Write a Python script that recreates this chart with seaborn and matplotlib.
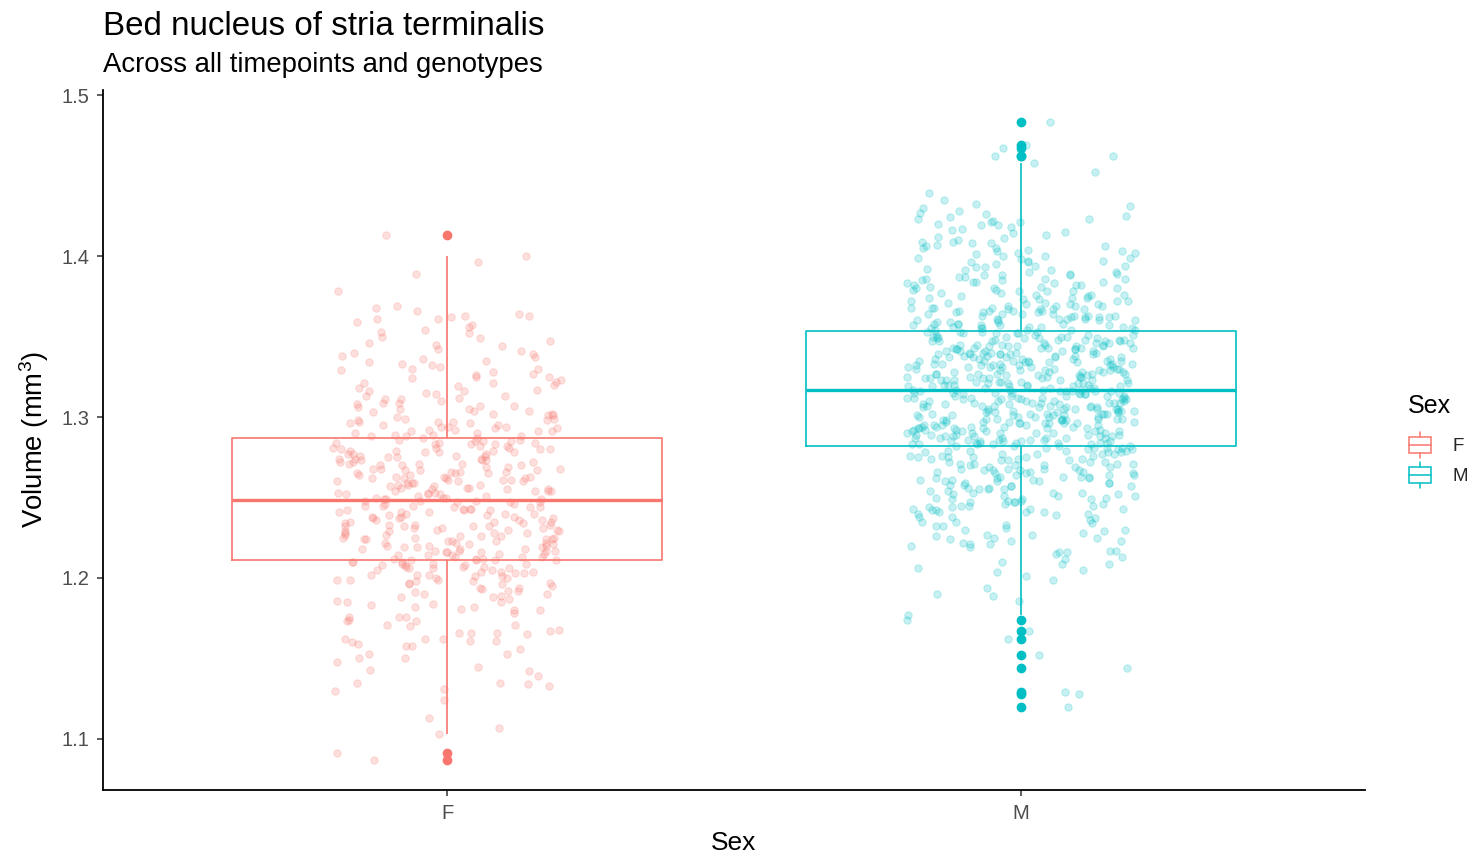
import numpy as np
import pandas as pd
import matplotlib
matplotlib.use("Agg")
import matplotlib.pyplot as plt
import seaborn as sns
from matplotlib.legend_handler import HandlerBase
from matplotlib.patches import Rectangle, Patch
from matplotlib.lines import Line2D

# ---------------- data ----------------
sexes = ["F", "M"]
colors = ["#F8766D", "#00BFC4"]
title = "Bed nucleus of stria terminalis"
subtitle = "Across all timepoints and genotypes"
x_label = "Sex"
legend_title = "Sex"
y_label = r"Volume (mm$^\mathregular{3}$)"
y_ticks = [1.1, 1.2, 1.3, 1.4, 1.5]
y_tick_labels = ["1.1", "1.2", "1.3", "1.4", "1.5"]

volume_F = [
    1.087, 1.091, 1.103, 1.107, 1.113,
    1.124, 1.130, 1.131, 1.133, 1.134, 1.135, 1.135, 1.139,
    1.142, 1.143, 1.145, 1.148, 1.150, 1.150, 1.153, 1.153, 1.156, 1.158, 1.158, 1.159,
    1.160, 1.161, 1.161, 1.162, 1.162, 1.162, 1.165, 1.166, 1.166, 1.166, 1.167, 1.168,
    1.170, 1.171, 1.171, 1.173, 1.173, 1.174, 1.176, 1.176, 1.176, 1.178,
    1.180, 1.180, 1.181, 1.182, 1.182, 1.183, 1.184, 1.185, 1.185, 1.186, 1.187, 1.188,
    1.188, 1.189, 1.190, 1.190, 1.191, 1.192, 1.192, 1.193, 1.194, 1.194, 1.195, 1.196,
    1.196, 1.197, 1.197, 1.198, 1.198, 1.199, 1.199, 1.199, 1.200,
    1.200, 1.201, 1.201, 1.202, 1.202, 1.202, 1.203, 1.203, 1.204, 1.204, 1.204, 1.205,
    1.205, 1.206, 1.206, 1.206, 1.207, 1.207, 1.207, 1.208, 1.208, 1.208, 1.209, 1.209,
    1.209, 1.210, 1.210, 1.210, 1.211, 1.211,
    1.211, 1.211, 1.212, 1.212, 1.212, 1.213, 1.213, 1.213, 1.214, 1.214, 1.214, 1.215,
    1.215, 1.216, 1.216, 1.216, 1.217, 1.217, 1.217, 1.217, 1.218, 1.218, 1.218, 1.219,
    1.219, 1.219, 1.220, 1.220, 1.220, 1.221, 1.221, 1.222, 1.222, 1.222, 1.223, 1.223,
    1.223, 1.224, 1.224, 1.224, 1.224, 1.225, 1.225, 1.225, 1.226, 1.226, 1.226, 1.227,
    1.227, 1.228, 1.228, 1.228, 1.229, 1.229, 1.229, 1.230, 1.230, 1.230, 1.231, 1.231,
    1.231, 1.232, 1.232, 1.232, 1.232, 1.233, 1.233, 1.233, 1.234, 1.234, 1.235, 1.235,
    1.235, 1.236, 1.236, 1.236, 1.237, 1.237, 1.237, 1.238, 1.238, 1.238, 1.239, 1.239,
    1.240, 1.240, 1.240, 1.241, 1.241, 1.241, 1.242, 1.242, 1.242, 1.243, 1.243, 1.243,
    1.244, 1.244, 1.244, 1.245, 1.245, 1.245, 1.246, 1.246, 1.247, 1.247, 1.247, 1.248,
    1.248, 1.248,
    1.249, 1.249, 1.249, 1.250, 1.250, 1.250, 1.251, 1.251, 1.252, 1.252, 1.252, 1.253,
    1.253, 1.253, 1.254, 1.254, 1.254, 1.254, 1.255, 1.255, 1.255, 1.256, 1.256, 1.256,
    1.257, 1.257, 1.258, 1.258, 1.258, 1.259, 1.259, 1.259, 1.260, 1.260, 1.260, 1.261,
    1.261, 1.261, 1.262, 1.262, 1.262, 1.262, 1.263, 1.263, 1.263, 1.264, 1.264, 1.265,
    1.265, 1.265, 1.266, 1.266, 1.266, 1.267, 1.267, 1.267, 1.268, 1.268, 1.268, 1.269,
    1.269, 1.270, 1.270, 1.270, 1.271, 1.271, 1.271, 1.272, 1.272, 1.272, 1.273, 1.273,
    1.273, 1.274, 1.274, 1.274, 1.275, 1.275, 1.276, 1.276, 1.276, 1.277, 1.277, 1.277,
    1.278, 1.278, 1.278, 1.279, 1.279, 1.279, 1.280, 1.280, 1.280, 1.281, 1.281, 1.281,
    1.282, 1.282, 1.283, 1.283, 1.283, 1.284, 1.284, 1.284, 1.285, 1.285, 1.285, 1.286,
    1.286, 1.287,
    1.287, 1.288, 1.288, 1.288, 1.289, 1.289, 1.290, 1.290, 1.291, 1.291, 1.291, 1.292,
    1.292, 1.293, 1.293, 1.294, 1.294, 1.294, 1.295, 1.295, 1.296, 1.296, 1.297, 1.297,
    1.297, 1.298, 1.298, 1.299, 1.299, 1.300,
    1.301, 1.301, 1.302, 1.302, 1.303, 1.304, 1.304, 1.305, 1.305, 1.306, 1.307, 1.307,
    1.308, 1.309, 1.309, 1.310, 1.311, 1.311, 1.312, 1.313, 1.313, 1.314, 1.315, 1.316,
    1.316, 1.317, 1.318, 1.319,
    1.320, 1.321, 1.321, 1.322, 1.323, 1.324, 1.325, 1.325, 1.326, 1.327, 1.328, 1.329,
    1.330, 1.330, 1.331, 1.332, 1.333, 1.334, 1.335, 1.336, 1.337, 1.338, 1.339,
    1.340, 1.341, 1.342, 1.344, 1.345, 1.346, 1.347, 1.349, 1.350, 1.352, 1.353, 1.354,
    1.356, 1.357, 1.359,
    1.361, 1.361, 1.362, 1.363, 1.363, 1.364, 1.366, 1.368, 1.369, 1.378,
    1.389, 1.396, 1.400, 1.413,
]

volume_M = [
    1.120, 1.128, 1.129, 1.144, 1.152, 1.162, 1.167, 1.174,
    1.177, 1.186, 1.189, 1.190, 1.194, 1.199,
    1.201, 1.204, 1.205, 1.206, 1.209, 1.209, 1.210, 1.212, 1.213, 1.215, 1.216, 1.216,
    1.217, 1.217, 1.219,
    1.220, 1.221, 1.221, 1.222, 1.223, 1.223, 1.224, 1.225, 1.225, 1.226, 1.227, 1.227,
    1.228, 1.229, 1.230, 1.230, 1.231, 1.232, 1.232, 1.233, 1.234, 1.235, 1.235, 1.236,
    1.237, 1.238, 1.238, 1.239,
    1.240, 1.240, 1.241, 1.241, 1.241, 1.242, 1.242, 1.243, 1.243, 1.243, 1.244, 1.244,
    1.245, 1.245, 1.245, 1.246, 1.246, 1.247, 1.247, 1.247, 1.248, 1.248, 1.249, 1.249,
    1.249, 1.250, 1.250, 1.251, 1.251, 1.251, 1.252, 1.252, 1.253, 1.253, 1.253, 1.254,
    1.254, 1.255, 1.255, 1.255, 1.256, 1.256, 1.257, 1.257, 1.257, 1.258, 1.258, 1.259,
    1.259, 1.259,
    1.260, 1.260, 1.260, 1.261, 1.261, 1.261, 1.262, 1.262, 1.262, 1.263, 1.263, 1.263,
    1.263, 1.264, 1.264, 1.264, 1.265, 1.265, 1.265, 1.266, 1.266, 1.266, 1.267, 1.267,
    1.267, 1.267, 1.268, 1.268, 1.268, 1.269, 1.269, 1.269, 1.270, 1.270, 1.270, 1.271,
    1.271, 1.271, 1.271, 1.272, 1.272, 1.272, 1.273, 1.273, 1.273, 1.274, 1.274, 1.274,
    1.275, 1.275, 1.275, 1.275, 1.276, 1.276, 1.276, 1.277, 1.277, 1.277, 1.277, 1.278,
    1.278, 1.278, 1.279, 1.279, 1.279, 1.279, 1.280, 1.280, 1.280, 1.281, 1.281, 1.281,
    1.281,
    1.282, 1.282, 1.282, 1.282, 1.283, 1.283, 1.283, 1.283, 1.283, 1.284, 1.284, 1.284,
    1.284, 1.284, 1.284, 1.285, 1.285, 1.285, 1.285, 1.285, 1.286, 1.286, 1.286, 1.286,
    1.287, 1.287, 1.287, 1.287, 1.287, 1.287, 1.288, 1.288, 1.288, 1.288, 1.288, 1.289,
    1.289, 1.289, 1.289, 1.289, 1.290, 1.290, 1.290, 1.290, 1.290, 1.290, 1.291, 1.291,
    1.291, 1.291, 1.291,
    1.292, 1.292, 1.292, 1.292, 1.293, 1.293, 1.293, 1.293, 1.293, 1.293, 1.294, 1.294,
    1.294, 1.294, 1.294, 1.295, 1.295, 1.295, 1.295, 1.295, 1.296, 1.296, 1.296, 1.296,
    1.296, 1.296, 1.297, 1.297, 1.297, 1.297, 1.298, 1.298, 1.298, 1.298, 1.298, 1.299,
    1.299, 1.299, 1.299, 1.299, 1.299, 1.300, 1.300, 1.300, 1.300, 1.300, 1.301, 1.301,
    1.301, 1.301, 1.301,
    1.302, 1.302, 1.302, 1.302, 1.302, 1.302, 1.303, 1.303, 1.303, 1.303, 1.304, 1.304,
    1.304, 1.304, 1.304, 1.305, 1.305, 1.305, 1.305, 1.305, 1.305, 1.306, 1.306, 1.306,
    1.306, 1.306, 1.307, 1.307, 1.307, 1.307, 1.307, 1.308, 1.308, 1.308, 1.308, 1.309,
    1.309, 1.309, 1.309, 1.309, 1.309, 1.310, 1.310, 1.310, 1.310, 1.310, 1.311, 1.311,
    1.311, 1.311, 1.311,
    1.312, 1.312, 1.312, 1.312, 1.312, 1.312, 1.313, 1.313, 1.313, 1.313, 1.313, 1.314,
    1.314, 1.314, 1.314, 1.315, 1.315, 1.315, 1.315, 1.315, 1.315, 1.316, 1.316, 1.316,
    1.316, 1.316, 1.316,
    1.317, 1.317, 1.317, 1.317, 1.317, 1.318, 1.318, 1.318, 1.318, 1.319, 1.319, 1.319,
    1.319, 1.319, 1.319, 1.320, 1.320, 1.320, 1.320, 1.320, 1.321, 1.321, 1.321, 1.321,
    1.321, 1.322, 1.322, 1.322, 1.322, 1.323, 1.323, 1.323, 1.323, 1.323, 1.323, 1.324,
    1.324, 1.324, 1.324, 1.324, 1.325, 1.325, 1.325, 1.325, 1.325, 1.326, 1.326, 1.326,
    1.326,
    1.327, 1.327, 1.327, 1.327, 1.327, 1.327, 1.328, 1.328, 1.328, 1.328, 1.328, 1.329,
    1.329, 1.329, 1.329, 1.329, 1.330, 1.330, 1.330, 1.330, 1.331, 1.331, 1.331, 1.331,
    1.331, 1.331, 1.332, 1.332, 1.332, 1.332, 1.332, 1.333, 1.333, 1.333, 1.333, 1.333,
    1.334, 1.334, 1.334, 1.334, 1.335, 1.335, 1.335, 1.335, 1.335, 1.335, 1.336, 1.336,
    1.336, 1.336, 1.336,
    1.337, 1.337, 1.337, 1.337, 1.337, 1.338, 1.338, 1.338, 1.338, 1.339, 1.339, 1.339,
    1.339, 1.339, 1.339, 1.340, 1.340, 1.340, 1.340, 1.340, 1.341, 1.341, 1.341, 1.341,
    1.341, 1.342, 1.342, 1.342, 1.342, 1.343, 1.343, 1.343, 1.343, 1.343, 1.343, 1.344,
    1.344, 1.344, 1.344, 1.344, 1.345, 1.345, 1.345, 1.345, 1.345, 1.346, 1.346, 1.346,
    1.346,
    1.347, 1.347, 1.347, 1.347, 1.347, 1.348, 1.348, 1.348, 1.348, 1.348, 1.349, 1.349,
    1.349, 1.349, 1.350, 1.350, 1.350, 1.350, 1.350, 1.351, 1.351, 1.351, 1.351, 1.352,
    1.352, 1.352, 1.352, 1.353, 1.353, 1.353, 1.353,
    1.354, 1.354, 1.354, 1.354, 1.355, 1.355, 1.355, 1.355, 1.356, 1.356, 1.356, 1.356,
    1.357, 1.357, 1.357, 1.357, 1.358, 1.358, 1.358, 1.358, 1.359, 1.359, 1.359, 1.360,
    1.360, 1.360, 1.360, 1.361, 1.361, 1.361, 1.361, 1.362, 1.362, 1.362, 1.362, 1.363,
    1.363, 1.363, 1.363, 1.364, 1.364, 1.364, 1.364, 1.365, 1.365, 1.365, 1.366, 1.366,
    1.366, 1.366, 1.367, 1.367, 1.367, 1.367, 1.368, 1.368, 1.368, 1.368, 1.369, 1.369,
    1.369, 1.369,
    1.370, 1.370, 1.370, 1.371, 1.371, 1.372, 1.372, 1.372, 1.373, 1.373, 1.374, 1.374,
    1.374, 1.375, 1.375, 1.376, 1.376, 1.376, 1.377, 1.377, 1.378, 1.378, 1.378, 1.379,
    1.379, 1.380, 1.380, 1.380, 1.381, 1.381, 1.382, 1.382, 1.382, 1.383, 1.383, 1.384,
    1.384, 1.384, 1.385, 1.385, 1.386, 1.386, 1.386, 1.387, 1.387, 1.388, 1.388, 1.388,
    1.389, 1.389,
    1.390, 1.390, 1.391, 1.391, 1.392, 1.393, 1.393, 1.394, 1.394, 1.395, 1.396, 1.396,
    1.397, 1.397, 1.398, 1.399, 1.399, 1.400, 1.400, 1.401, 1.402, 1.402, 1.403, 1.403,
    1.404, 1.405, 1.405, 1.406, 1.406, 1.407, 1.408, 1.408, 1.409, 1.409,
    1.410, 1.411, 1.412, 1.413, 1.414, 1.415, 1.416, 1.417, 1.418, 1.419, 1.419, 1.420,
    1.421, 1.421, 1.422, 1.423, 1.423, 1.424, 1.425, 1.426, 1.427, 1.428,
    1.430, 1.431, 1.432, 1.435, 1.439, 1.452, 1.458,
    1.462, 1.462, 1.467, 1.469, 1.483,
]

df = pd.DataFrame({
    "Sex": ["F"] * len(volume_F) + ["M"] * len(volume_M),
    "Volume": volume_F + volume_M,
})

# ---------------- style ----------------
sns.set_theme(style="white")
plt.rcParams["font.family"] = ["Liberation Sans", "DejaVu Sans"]
plt.rcParams["mathtext.fontset"] = "custom"
plt.rcParams["mathtext.rm"] = "Liberation Sans"
plt.rcParams["mathtext.it"] = "Liberation Sans:italic"
plt.rcParams["mathtext.bf"] = "Liberation Sans:bold"

W, H = 1479, 857
fig = plt.figure(figsize=(W / 100, H / 100), dpi=100)
ax = fig.add_axes([103 / W, 67 / H, 1262 / W, 700 / H])

np.random.seed(11)
for sex, c in zip(sexes, colors):
    sub = df[df["Sex"] == sex]
    sns.stripplot(data=sub, x="Sex", y="Volume", order=sexes, color=c,
                  jitter=0.2, size=5.3, alpha=0.22, linewidth=0.8,
                  edgecolor=c, ax=ax, zorder=1)

for sex, c in zip(sexes, colors):
    sub = df[df["Sex"] == sex]
    n_before = len(ax.lines)
    sns.boxplot(data=sub, x="Sex", y="Volume", order=sexes, color=c,
                linecolor=c, fill=False, width=0.75, whis=1.5,
                showcaps=False, saturation=1, linewidth=1.2,
                medianprops=dict(linewidth=2.4),
                flierprops=dict(marker="o", markersize=6),
                ax=ax)
    for ln in ax.lines[n_before:]:
        ln.set_color(c)
        ln.set_zorder(3)
        if ln.get_marker() == "o":
            ln.set_markerfacecolor(c)
            ln.set_markeredgecolor(c)
            ln.set_markersize(6)
            ln.set_linestyle("none")

ax.set_xlim(-0.6, 1.6)
ax.set_ylim(1.06832, 1.50311)
ax.set_yticks(y_ticks)
ax.set_yticklabels(y_tick_labels)
ax.set_xticks([0, 1])
ax.set_xticklabels(sexes)

for side in ["top", "right"]:
    ax.spines[side].set_visible(False)
for side in ["left", "bottom"]:
    ax.spines[side].set_color("black")
    ax.spines[side].set_linewidth(1.3)

ax.tick_params(axis="both", which="major", length=4, width=1.1,
               color="#333333", labelcolor="#4D4D4D", labelsize=14.5,
               pad=6, left=True, bottom=True)
ax.set_xlabel(x_label, fontsize=19, color="black", labelpad=6)
ax.set_ylabel(y_label, fontsize=19.8, color="black", labelpad=7)

fig.text(103 / W, 1 - 35 / H, title, fontsize=23.9, color="black", va="baseline", ha="left")
fig.text(103 / W, 1 - 72 / H, subtitle, fontsize=19.85, color="black", va="baseline", ha="left")


# ---------------- legend ----------------
class BoxKeyHandler(HandlerBase):
    def create_artists(self, legend, orig_handle, xdescent, ydescent,
                       width, height, fontsize, trans):
        c = orig_handle.get_edgecolor()
        x0, y0 = -xdescent, -ydescent
        bx = Rectangle((x0 + 0.04 * width, y0 + 0.19 * height), 0.92 * width,
                       0.62 * height, facecolor="none", edgecolor=c, lw=1.1,
                       transform=trans)
        med = Line2D([x0 + 0.04 * width, x0 + 0.96 * width],
                     [y0 + 0.5 * height] * 2, color=c, lw=1.1, transform=trans)
        w1 = Line2D([x0 + 0.5 * width] * 2, [y0, y0 + 0.19 * height],
                    color=c, lw=1.1, transform=trans)
        w2 = Line2D([x0 + 0.5 * width] * 2, [y0 + 0.81 * height, y0 + height],
                    color=c, lw=1.1, transform=trans)
        return [bx, med, w1, w2]


fig.text(1408 / W, 1 - 406 / H, legend_title, fontsize=18, color="black",
         va="center", ha="left")
handles = [Patch(edgecolor=c, facecolor="none") for c in colors]
leg = fig.legend(handles, sexes, handler_map={Patch: BoxKeyHandler()},
                 loc="upper left", bbox_to_anchor=(1408 / W, 1 - 432 / H),
                 frameon=False, fontsize=13.5,
                 handlelength=1.28, handleheight=1.76, labelspacing=0.19,
                 handletextpad=1.07, borderpad=0, borderaxespad=0)

fig.savefig("out.png", dpi=100)
